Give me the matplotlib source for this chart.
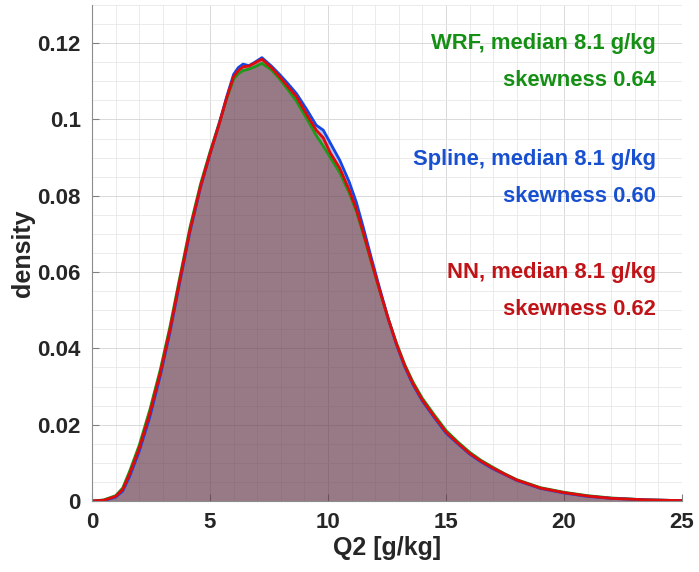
import matplotlib.pyplot as plt
from matplotlib.ticker import MultipleLocator

# Q2 bins [g/kg]
q2 = [0, 0.5, 1.0, 1.3, 1.6, 2.0, 2.45, 2.9, 3.3, 3.7, 4.15, 4.6, 5.0, 5.4, 5.7,
      6.0, 6.2, 6.4, 6.65, 6.9, 7.2, 7.6, 7.95, 8.3, 8.66, 9.1, 9.5, 9.8, 10.1,
      10.5, 10.9, 11.2, 11.5, 11.85, 12.2, 12.55, 12.9, 13.25, 13.6, 14.0, 14.5,
      15.0, 15.5, 16.0, 16.5, 17.0, 17.5, 18.0, 19.0, 20.0, 21.0, 22.0, 23.5, 25.0]

# density estimates
wrf = [0, 0.0003, 0.0014, 0.0034, 0.0079, 0.0146, 0.0239, 0.0346, 0.0456, 0.0580,
       0.0717, 0.0831, 0.0915, 0.0993, 0.1053, 0.1105, 0.1120, 0.1128, 0.1132,
       0.1138, 0.1147, 0.1130, 0.1106, 0.1078, 0.1048, 0.1002, 0.0958, 0.0930,
       0.0900, 0.0860, 0.0807, 0.0759, 0.0698, 0.0623, 0.0549, 0.0478, 0.0414,
       0.0358, 0.0312, 0.0269, 0.0226, 0.0185, 0.0155, 0.0128, 0.0106, 0.0088,
       0.0071, 0.0056, 0.0035, 0.0023, 0.0014, 0.0008, 0.0003, 0.0001]

spline = [0, 0.0001, 0.0010, 0.0026, 0.0065, 0.0130, 0.0220, 0.0330, 0.0441, 0.0567,
          0.0705, 0.0822, 0.0909, 0.0991, 0.1058, 0.1118, 0.1136, 0.1145, 0.1141,
          0.1150, 0.1162, 0.1140, 0.1118, 0.1094, 0.1068, 0.1026, 0.0985, 0.0972,
          0.0938, 0.0893, 0.0836, 0.0783, 0.0716, 0.0634, 0.0555, 0.0478, 0.0410,
          0.0352, 0.0305, 0.0262, 0.0219, 0.0178, 0.0150, 0.0123, 0.0102, 0.0084,
          0.0069, 0.0054, 0.0033, 0.0021, 0.0012, 0.0007, 0.0003, 0.0001]

nn = [0, 0.0002, 0.0012, 0.0030, 0.0072, 0.0138, 0.0230, 0.0338, 0.0448, 0.0573,
      0.0710, 0.0825, 0.0910, 0.0990, 0.1055, 0.1112, 0.1128, 0.1138, 0.1140,
      0.1148, 0.1158, 0.1136, 0.1112, 0.1086, 0.1060, 0.1013, 0.0972, 0.0952,
      0.0912, 0.0872, 0.0815, 0.0765, 0.0703, 0.0625, 0.0550, 0.0478, 0.0412,
      0.0355, 0.0308, 0.0265, 0.0222, 0.0181, 0.0152, 0.0125, 0.0104, 0.0086,
      0.0070, 0.0055, 0.0034, 0.0022, 0.0013, 0.0007, 0.0003, 0.0001]

labels = [('WRF, median 8.1 g/kg', 'skewness 0.64'),
          ('Spline, median 8.1 g/kg', 'skewness 0.60'),
          ('NN, median 8.1 g/kg', 'skewness 0.62')]

green = '#1a9a1a'
blue = '#1446e6'
red = '#e00a0a'

plt.rcParams['font.family'] = ['Liberation Sans', 'DejaVu Sans']
plt.rcParams['font.weight'] = 'bold'

fig = plt.figure(figsize=(6.99, 5.72), dpi=100)
ax = fig.add_axes([0.1316, 0.1241, 0.8441, 0.8672])

# fills with transparency (green, blue, red), lines on top
ax.fill_between(q2, wrf, color='#009600', alpha=0.3, lw=0)
ax.fill_between(q2, spline, color='#0046e6', alpha=0.3, lw=0)
ax.fill_between(q2, nn, color='#dc0000', alpha=0.3, lw=0)
ax.plot(q2, wrf, color=green, lw=2)
ax.plot(q2, spline, color=blue, lw=2)
ax.plot(q2, nn, color=red, lw=2)

# annotations
txt_cols = ['#159015', '#1850d0', '#c01418']
ys = [(0.1198, 0.1101), (0.0896, 0.0799), (0.0598, 0.0501)]
for (l1, l2), (y1, y2), c in zip(labels, ys, txt_cols):
    ax.text(23.9, y1, l1, ha='right', va='center', color=c, fontsize=15.8, fontweight='bold')
    ax.text(23.9, y2, l2, ha='right', va='center', color=c, fontsize=15.8, fontweight='bold')

ax.set_xlim(0, 25)
ax.set_ylim(0, 0.13)
ax.set_xticks([0, 5, 10, 15, 20, 25])
ax.set_yticks([0, 0.02, 0.04, 0.06, 0.08, 0.1, 0.12])
ax.set_yticklabels(['0', '0.02', '0.04', '0.06', '0.08', '0.1', '0.12'])
ax.xaxis.set_minor_locator(MultipleLocator(1))
ax.yaxis.set_minor_locator(MultipleLocator(0.005))
ax.set_axisbelow(True)
ax.grid(which='major', color='#d9d9d9', lw=0.7)
ax.grid(which='minor', color='#e8e8e8', lw=0.6)
ax.tick_params(which='major', direction='in', length=5, color='#808080',
               labelsize=16, labelcolor='#262626', pad=8)
ax.tick_params(which='minor', length=0)
for lab in ax.get_xticklabels() + ax.get_yticklabels():
    lab.set_fontweight('bold')

for s in ['top', 'right']:
    ax.spines[s].set_visible(False)
for s in ['left', 'bottom']:
    ax.spines[s].set_color('#8c8c8c')
    ax.spines[s].set_linewidth(0.8)

ax.set_xlabel('Q2 [g/kg]', fontsize=18, fontweight='bold', color='#262626', labelpad=2)
ax.set_ylabel('density', fontsize=18, fontweight='bold', color='#262626', labelpad=2)

fig.savefig('out.png', dpi=100)
